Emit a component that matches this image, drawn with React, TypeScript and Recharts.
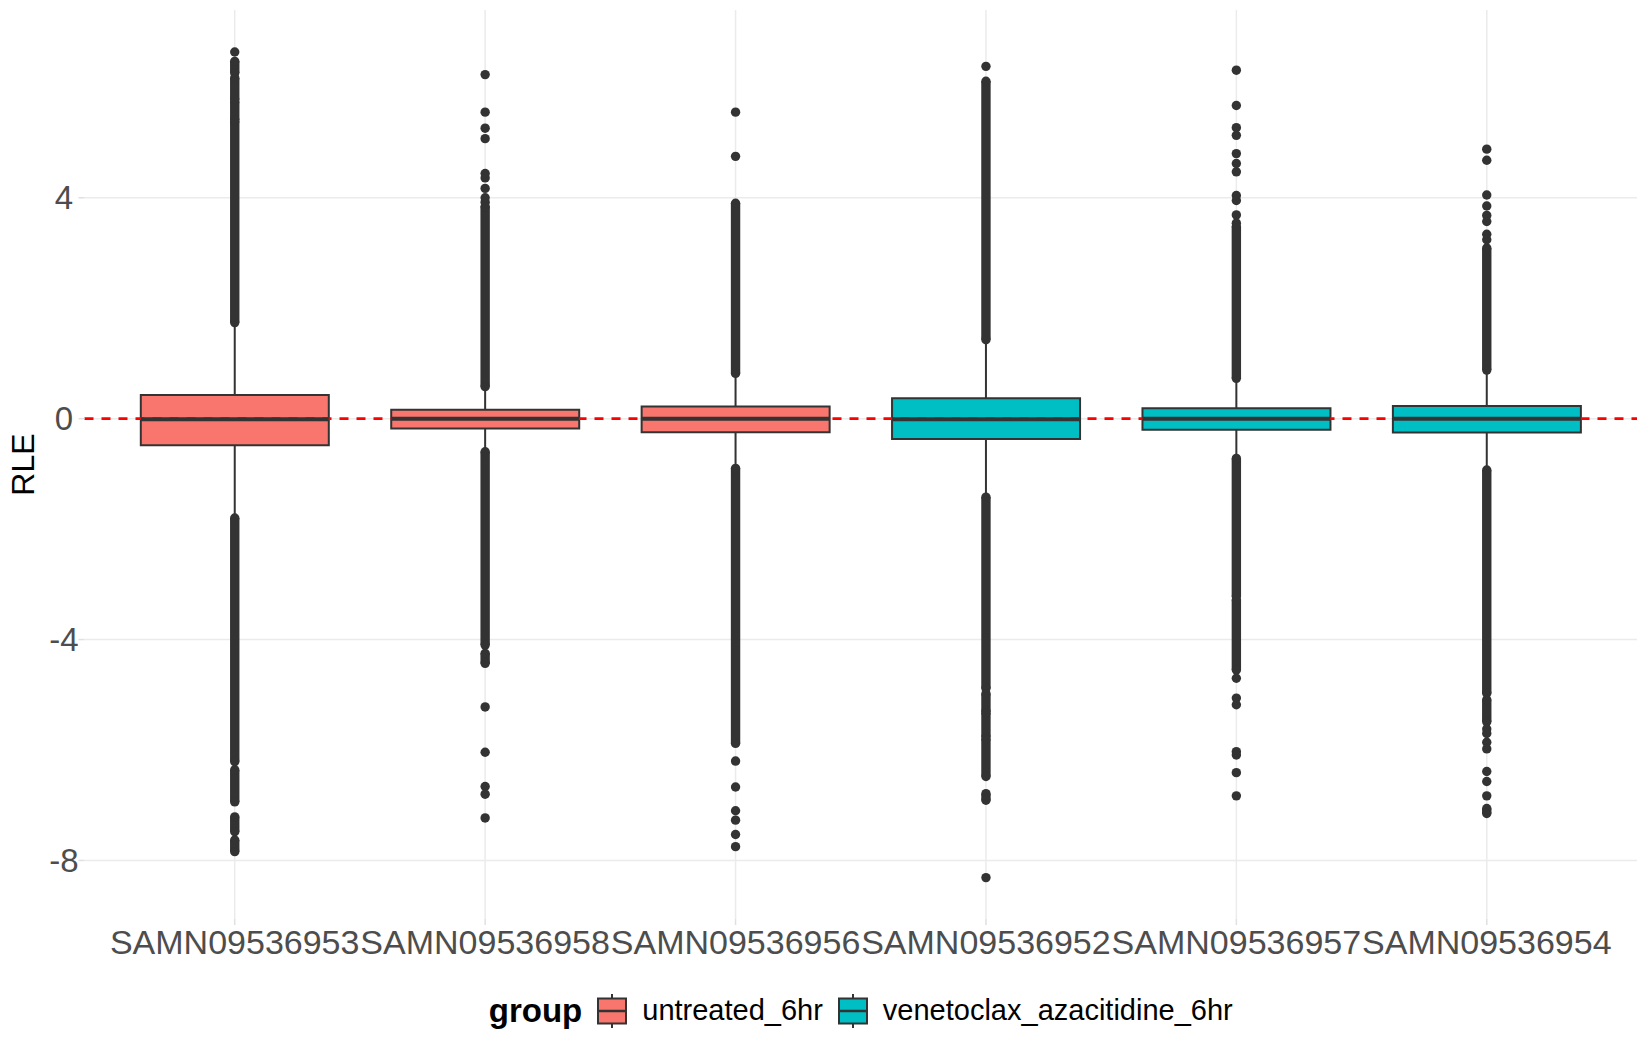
import {
  Bar,
  CartesianGrid,
  Cell,
  ComposedChart,
  Legend,
  ReferenceLine,
  Scatter,
  XAxis,
  YAxis,
} from 'recharts';

const samples = [
  'SAMN09536953',
  'SAMN09536958',
  'SAMN09536956',
  'SAMN09536952',
  'SAMN09536957',
  'SAMN09536954',
];
const groups = ['untreated_6hr', 'venetoclax_azacitidine_6hr'];
const groupColors = ['#F8766D', '#00BFC4'];
const sampleGroup = [0, 0, 0, 1, 1, 1];

// box statistics
const q1 = [-0.48, -0.18, -0.245, -0.37, -0.2, -0.25];
const median = [-0.01, 0, 0, -0.01, 0, 0];
const q3 = [0.43, 0.16, 0.22, 0.37, 0.19, 0.23];
const whiskerLow = [-1.8, -0.6, -0.9, -1.42, -0.72, -0.93];
const whiskerHigh = [1.74, 0.58, 0.82, 1.43, 0.73, 0.88];

// stretches where outlier dots overlap into a solid column
const outlierRuns: [number, number][][] = [
  [[1.74, 5.38], [5.41, 5.74], [5.78, 6.17], [6.26, 6.47], [-1.8, -6.21], [-6.36, -6.94], [-7.21, -7.48], [-7.63, -7.84]],
  [[0.58, 3.84], [-0.6, -4.1], [-4.25, -4.43]],
  [[0.82, 3.9], [-0.9, -5.88]],
  [[1.43, 6.11], [-1.42, -4.88], [-4.98, -5.3], [-5.33, -5.76], [-5.8, -6.48], [-6.79, -6.91]],
  [[0.73, 3.48], [-0.72, -3.22], [-3.28, -4.55]],
  [[0.88, 3.09], [-0.93, -4.97], [-5.09, -5.49], [-7.06, -7.15]],
];

// single outlier dots
const outlierDots = [
  [6.64],
  [3.92, 4.0, 4.17, 4.36, 4.44, 5.07, 5.26, 5.55, 6.23, -5.22, -6.04, -6.66, -6.8, -7.23],
  [4.75, 5.55, -6.2, -6.67, -7.1, -7.27, -7.53, -7.75],
  [6.38, -8.31],
  [3.54, 3.69, 3.95, 4.04, 4.47, 4.62, 4.8, 5.13, 5.27, 5.67, 6.31, -4.7, -5.06, -5.18, -6.03, -6.09, -6.41, -6.83],
  [3.24, 3.34, 3.57, 3.68, 3.85, 4.05, 4.68, 4.88, -5.62, -5.7, -5.86, -5.98, -6.39, -6.57, -6.83],
];

const yTicks = [-8, -4, 0, 4];
const yMinorTicks = [-6, -2, 2, 6];
const yDomain = [-9.06, 7.4];
const xDomain = [-0.6, 5.6];

const INK = '#333333';
const GRID = '#EBEBEB';
const TICK_TEXT = '#4D4D4D';
const FONT = '"Liberation Sans", Arial, Helvetica, sans-serif';
const BOX_HALF = 0.375;
const DOT_R = 4.7;

const boxRows = samples.map((sample, i) => ({ sample, box: [q1[i], q3[i]] }));

const seg = (x: number, a: number, b: number) => [
  { x, y: a },
  { x, y: b },
];

const whiskerSegs = samples.flatMap((_, i) => [
  seg(i, whiskerLow[i], q1[i]),
  seg(i, q3[i], whiskerHigh[i]),
]);
const medianSegs = samples.map((_, i) => [
  { x: i - BOX_HALF, y: median[i] },
  { x: i + BOX_HALF, y: median[i] },
]);
const runSegs = outlierRuns.flatMap((runs, i) => runs.map(([a, b]) => seg(i, a, b)));
const dotPoints = outlierDots.flatMap((vals, i) => vals.map((y) => ({ x: i, y })));

const noShape = () => <g />;
const dotShape = (p: any) => <circle cx={p.cx} cy={p.cy} r={DOT_R} fill={INK} />;

function AxisTitle({ viewBox }: any) {
  const cx = (viewBox?.x ?? 0) + 23;
  const cy = (viewBox?.y ?? 0) + (viewBox?.height ?? 0) / 2;
  return (
    <text
      x={cx}
      y={cy}
      transform={`rotate(-90 ${cx} ${cy})`}
      textAnchor="middle"
      dominantBaseline="central"
      fill="#000"
      fontSize={32}
      fontFamily={FONT}
    >
      RLE
    </text>
  );
}

function KeyGlyph({ color }: { color: string }) {
  return (
    <svg width={30} height={34} style={{ display: 'block' }}>
      <line x1={15} x2={15} y1={0} y2={34} stroke={INK} strokeWidth={2} />
      <rect x={1} y={4.5} width={28} height={25} fill={color} stroke={INK} strokeWidth={2} />
      <line x1={1} x2={29} y1={17} y2={17} stroke={INK} strokeWidth={2.5} />
    </svg>
  );
}

function GroupLegend() {
  return (
    <div
      style={{
        height: 79,
        display: 'flex',
        alignItems: 'center',
        justifyContent: 'center',
        paddingLeft: 84.5,
        boxSizing: 'border-box',
        fontFamily: FONT,
        color: '#000',
      }}
    >
      <span style={{ fontSize: 33, fontWeight: 'bold', marginRight: 15 }}>group</span>
      {groups.map((g, i) => (
        <div key={g} style={{ display: 'flex', alignItems: 'center', marginRight: i < groups.length - 1 ? 15 : 0 }}>
          <KeyGlyph color={groupColors[i]} />
          <span style={{ fontSize: 29, marginLeft: 15 }}>{g}</span>
        </div>
      ))}
    </div>
  );
}

export default function App() {
  const minorLines = ({ yAxis }: any) =>
    typeof yAxis?.scale === 'function' ? yMinorTicks.map((v) => yAxis.scale(v)) : [];

  return (
    <div style={{ width: 1650, height: 1050, background: '#fff' }}>
      <style>{'body{margin:0}'}</style>
      <ComposedChart
        width={1650}
        height={1050}
        data={boxRows}
        margin={{ top: 10, right: 13, bottom: 0, left: 0 }}
        barCategoryGap="12.5%"
      >
        <CartesianGrid
          vertical={false}
          stroke={GRID}
          strokeWidth={1.1}
          horizontalCoordinatesGenerator={minorLines}
          syncWithTicks
        />
        <CartesianGrid stroke={GRID} strokeWidth={1.5} syncWithTicks />
        <XAxis
          dataKey="sample"
          type="category"
          padding={{ left: 25, right: 25 }}
          interval={0}
          axisLine={false}
          tickLine={{ stroke: '#E0E0E0', strokeWidth: 1.5 }}
          tickSize={6}
          tickMargin={5}
          height={52}
          tick={{ fill: TICK_TEXT, fontSize: 34, fontFamily: FONT }}
        />
        <XAxis xAxisId="pos" type="number" dataKey="x" domain={xDomain} allowDataOverflow hide />
        <YAxis
          type="number"
          domain={yDomain}
          ticks={yTicks}
          allowDataOverflow
          width={84.5}
          axisLine={false}
          tickLine={{ stroke: '#E0E0E0', strokeWidth: 1.5 }}
          tickSize={6}
          tickMargin={14.5}
          tick={{ fill: TICK_TEXT, fontSize: 33, fontFamily: FONT, textAnchor: 'middle' }}
          label={<AxisTitle />}
        />
        {whiskerSegs.map((d, k) => (
          <Scatter
            key={`w${k}`}
            xAxisId="pos"
            data={d}
            dataKey="y"
            shape={noShape}
            line={{ stroke: INK, strokeWidth: 2 }}
            legendType="none"
            isAnimationActive={false}
          />
        ))}
        <Bar dataKey="box" stroke={INK} strokeWidth={2} legendType="none" isAnimationActive={false}>
          {boxRows.map((r, i) => (
            <Cell key={r.sample} fill={groupColors[sampleGroup[i]]} />
          ))}
        </Bar>
        {medianSegs.map((d, k) => (
          <Scatter
            key={`m${k}`}
            xAxisId="pos"
            data={d}
            dataKey="y"
            shape={noShape}
            line={{ stroke: INK, strokeWidth: 4 }}
            legendType="none"
            isAnimationActive={false}
          />
        ))}
        {runSegs.map((d, k) => (
          <Scatter
            key={`r${k}`}
            xAxisId="pos"
            data={d}
            dataKey="y"
            shape={dotShape}
            line={{ stroke: INK, strokeWidth: DOT_R * 2 }}
            legendType="none"
            isAnimationActive={false}
          />
        ))}
        <Scatter
          xAxisId="pos"
          data={dotPoints}
          dataKey="y"
          shape={dotShape}
          legendType="none"
          isAnimationActive={false}
        />
        <ReferenceLine y={0} stroke="#FF0000" strokeWidth={2.8} strokeDasharray="9 8" />
        <Legend verticalAlign="bottom" content={() => <GroupLegend />} />
      </ComposedChart>
    </div>
  );
}
